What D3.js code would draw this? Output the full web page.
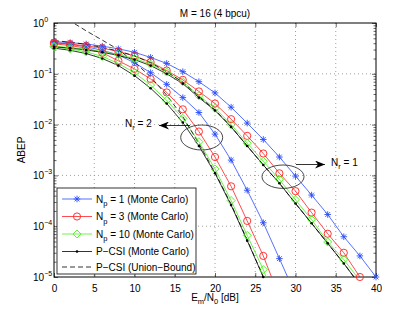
<!DOCTYPE html>
<html>
<head>
<meta charset="utf-8">
<script src="https://cdn.jsdelivr.net/npm/d3@7"></script>
<style>
  body { margin: 0; background: #fff; }
  text { font-family: "Liberation Sans", Arial, sans-serif; font-size: 10px; fill: #000; }
</style>
</head>
<body>
<svg id="chart" width="415" height="313"></svg>
<script>

  // Em/N0 in dB, one marker every 2 dB
  var snr = d3.range(0, 41, 2);
  var xTicks = [0, 5, 10, 15, 20, 25, 30, 35, 40];
  var yTicks = [1e-5, 1e-4, 1e-3, 1e-2, 1e-1, 1e0];
  var yExp = ["\u22125", "\u22124", "\u22123", "\u22122", "\u22121", "0"];

  // Nr = 1
  var np1Nr1  = [0.43, 0.41, 0.385, 0.35, 0.31, 0.265, 0.21, 0.16, 0.11, 0.07, 0.042, 0.022, 0.0107, 5.1e-3, 2.3e-3, 9.7e-4, 4.1e-4, 1.7e-4, 6.2e-5, 2.6e-5, 1.0e-5];
  var np3Nr1  = [0.41, 0.385, 0.355, 0.32, 0.275, 0.225, 0.17, 0.116, 0.076, 0.045, 0.026, 0.0128, 6.0e-3, 2.7e-3, 1.1e-3, 4.9e-4, 1.85e-4, 7.1e-5, 3.0e-5, 1.0e-5, 3.5e-6];
  var np10Nr1 = [0.35, 0.33, 0.305, 0.275, 0.24, 0.2, 0.155, 0.108, 0.07, 0.037, 0.021, 0.0100, 4.3e-3, 1.9e-3, 8.3e-4, 3.3e-4, 1.35e-4, 4.9e-5, 2.2e-5, 8.5e-6, 3.0e-6];
  var pcsiNr1 = [0.34, 0.32, 0.295, 0.265, 0.23, 0.19, 0.145, 0.1, 0.064, 0.034, 0.019, 9.0e-3, 3.8e-3, 1.6e-3, 7.0e-4, 2.8e-4, 1.14e-4, 4.6e-5, 1.85e-5, 7.0e-6, 2.5e-6];
  var ubNr1   = [0.45, 0.42, 0.38, 0.33, 0.28, 0.225, 0.165, 0.11, 0.068, 0.036, 0.0195, 9.1e-3, 3.8e-3, 1.6e-3, 7.0e-4, 2.8e-4, 1.14e-4, 4.6e-5, 1.85e-5, 7.0e-6, 2.5e-6];

  // Nr = 2
  var np1Nr2  = [0.41, 0.38, 0.34, 0.29, 0.235, 0.165, 0.105, 0.062, 0.034, 0.0173, 6.5e-3, 2.0e-3, 5.1e-4, 1.17e-4, 2.3e-5, 4.5e-6];
  var np3Nr2  = [0.39, 0.36, 0.32, 0.26, 0.18, 0.125, 0.079, 0.043, 0.02, 7.3e-3, 2.3e-3, 6.1e-4, 1.27e-4, 2.6e-5, 4.0e-6];
  var np10Nr2 = [0.34, 0.31, 0.27, 0.22, 0.16, 0.105, 0.06, 0.03, 0.0133, 4.6e-3, 1.34e-3, 3.2e-4, 6.6e-5, 1.4e-5, 2.0e-6];
  var pcsiNr2 = [0.32, 0.29, 0.25, 0.2, 0.145, 0.092, 0.052, 0.026, 0.011, 3.8e-3, 1.1e-3, 2.6e-4, 5.2e-5, 1.0e-5, 1.5e-6];
  var ubNr2   = [1.65, 1.1, 0.7, 0.46, 0.3, 0.17, 0.087, 0.038, 0.0144, 4.2e-3, 1.15e-3, 2.7e-4, 5.4e-5, 1.0e-5, 1.5e-6];

  var legendLabels = [
    ["N", "p", " = 1 (Monte Carlo)"],
    ["N", "p", " = 3 (Monte Carlo)"],
    ["N", "p", " = 10 (Monte Carlo)"],
    ["P\u2212CSI (Monte Carlo)", "", ""],
    ["P\u2212CSI (Union\u2212Bound)", "", ""]
  ];

  var blue = "#2a4dff", red = "#ff2020", green = "#4cf020";

  var series = [
    { v: np1Nr1, c: blue, m: "star" }, { v: np1Nr2, c: blue, m: "star" },
    { v: np3Nr1, c: red, m: "circle" }, { v: np3Nr2, c: red, m: "circle" },
    { v: np10Nr1, c: green, m: "diamond" }, { v: np10Nr2, c: green, m: "diamond" },
    { v: pcsiNr1, c: "#000", m: "dot" }, { v: pcsiNr2, c: "#000", m: "dot" },
    { v: ubNr1, c: "#000", m: "none", dash: "5,3" }, { v: ubNr2, c: "#000", m: "none", dash: "5,3" }
  ];

  var margin = { left: 54, top: 23, right: 39, bottom: 36 };
  var W = 415, H = 313;
  var w = W - margin.left - margin.right, h = H - margin.top - margin.bottom;

  var svg = d3.select("#chart");
  var g = svg.append("g").attr("transform", "translate(" + margin.left + "," + margin.top + ")");

  var x = d3.scaleLinear().domain([0, 40]).range([0, w]);
  var y = d3.scaleLog().domain([1e-5, 1]).range([h, 0]);

  svg.append("defs").append("clipPath").attr("id", "clip")
    .append("rect").attr("width", w).attr("height", h);

  // grid
  g.selectAll(".gx").data(xTicks.slice(1, -1)).enter().append("line")
    .attr("x1", function(d) { return x(d); }).attr("x2", function(d) { return x(d); })
    .attr("y1", 0).attr("y2", h)
    .attr("stroke", "#888").attr("stroke-width", 0.8).attr("stroke-dasharray", "1,3");
  g.selectAll(".gy").data(yTicks.slice(1, -1)).enter().append("line")
    .attr("y1", function(d) { return y(d); }).attr("y2", function(d) { return y(d); })
    .attr("x1", 0).attr("x2", w)
    .attr("stroke", "#888").attr("stroke-width", 0.8).attr("stroke-dasharray", "1,3");

  // axes
  var minor = [];
  yTicks.slice(0, -1).forEach(function(t) {
    for (var k = 2; k < 10; k++) minor.push(t * k);
  });
  var axB = d3.axisBottom(x).tickValues(xTicks).tickSizeInner(-4).tickSizeOuter(0).tickPadding(8);
  var axT = d3.axisTop(x).tickValues(xTicks).tickSizeInner(-4).tickSizeOuter(0).tickFormat("");
  var axL = d3.axisLeft(y).tickValues(yTicks).tickSizeInner(-4).tickSizeOuter(0).tickFormat("");
  var axR = d3.axisRight(y).tickValues(yTicks).tickSizeInner(-4).tickSizeOuter(0).tickFormat("");
  var axLm = d3.axisLeft(y).tickValues(minor).tickSizeInner(-2.5).tickSizeOuter(0).tickFormat("");
  var axRm = d3.axisRight(y).tickValues(minor).tickSizeInner(-2.5).tickSizeOuter(0).tickFormat("");

  g.append("g").attr("transform", "translate(0," + h + ")").call(axB);
  g.append("g").call(axT);
  g.append("g").call(axL);
  g.append("g").call(axLm);
  g.append("g").attr("transform", "translate(" + w + ",0)").call(axR);
  g.append("g").attr("transform", "translate(" + w + ",0)").call(axRm);
  g.selectAll(".domain").remove();
  g.selectAll(".tick line").attr("stroke", "#000").attr("stroke-width", 0.6);
  g.selectAll(".tick text").style("font-size", "10px").style("font-family", "'Liberation Sans', Arial, sans-serif");
  g.append("rect").attr("width", w).attr("height", h)
    .attr("fill", "none").attr("stroke", "#000").attr("stroke-width", 1);

  // y tick labels as 10^n
  var yl = g.append("g").selectAll("text").data(yTicks).enter().append("text")
    .attr("x", -21).attr("y", function(d) { return y(d) + 4; });
  yl.append("tspan").text("10");
  yl.append("tspan").attr("dy", -5).style("font-size", "7px")
    .text(function(d, i) { return yExp[i]; });

  // curves
  var line = d3.line()
    .defined(function(d) { return d[1] != null; })
    .x(function(d) { return x(d[0]); })
    .y(function(d) { return y(d[1]); });

  var curves = g.append("g").attr("clip-path", "url(#clip)");
  series.forEach(function(s) {
    var pts = s.v.map(function(v, i) { return [snr[i], v]; });
    curves.append("path").datum(pts).attr("d", line)
      .attr("fill", "none").attr("stroke", s.c).attr("stroke-width", 0.8)
      .attr("stroke-dasharray", s.dash || null);
  });

  function marker(sel, type, color) {
    if (type === "star") {
      sel.append("path").attr("d", "M-3.3,0H3.3M0,-3.3V3.3M-2.4,-2.4L2.4,2.4M-2.4,2.4L2.4,-2.4")
        .attr("stroke", color).attr("stroke-width", 0.9).attr("fill", "none");
    } else if (type === "circle") {
      sel.append("circle").attr("r", 3.6).attr("fill", "none").attr("stroke", color).attr("stroke-width", 0.9);
    } else if (type === "diamond") {
      sel.append("path").attr("d", "M0,-4L4,0L0,4L-4,0Z").attr("fill", "none").attr("stroke", color).attr("stroke-width", 0.9);
    } else if (type === "dot") {
      sel.append("circle").attr("r", 1.3).attr("fill", color);
    }
  }

  series.forEach(function(s) {
    if (s.m === "none") return;
    s.v.forEach(function(v, i) {
      if (v == null || v < 0.97e-5 || v > 1) return;
      var mk = g.append("g").attr("transform", "translate(" + x(snr[i]) + "," + y(v) + ")");
      marker(mk, s.m, s.c);
    });
  });

  // annotations: ellipses and arrows
  svg.append("defs").append("marker").attr("id", "arr")
    .attr("viewBox", "0 0 10 8").attr("refX", 10).attr("refY", 4)
    .attr("markerWidth", 10).attr("markerHeight", 8).attr("markerUnits", "userSpaceOnUse")
    .attr("orient", "auto")
    .append("path").attr("d", "M0,0L10,4L0,8L3,4Z").attr("fill", "#000");

  svg.append("ellipse").attr("cx", 201.7).attr("cy", 137.5).attr("rx", 21).attr("ry", 12.5)
    .attr("fill", "none").attr("stroke", "#333").attr("stroke-width", 0.9);
  svg.append("ellipse").attr("cx", 283).attr("cy", 176.7).attr("rx", 21).attr("ry", 11.7)
    .attr("fill", "none").attr("stroke", "#333").attr("stroke-width", 0.9);

  svg.append("line").attr("x1", 190).attr("y1", 125.5).attr("x2", 159).attr("y2", 125.5)
    .attr("stroke", "#000").attr("stroke-width", 0.8).attr("marker-end", "url(#arr)");
  svg.append("line").attr("x1", 296).attr("y1", 164.5).attr("x2", 325).attr("y2", 164.5)
    .attr("stroke", "#000").attr("stroke-width", 0.8).attr("marker-end", "url(#arr)");

  function nr(xp, yp, val) {
    var t = svg.append("text").attr("x", xp).attr("y", yp);
    t.append("tspan").text("N");
    t.append("tspan").attr("dy", 3).style("font-size", "7.5px").text("r");
    t.append("tspan").attr("dy", -3).text(" = " + val);
  }
  nr(125, 127, "2");
  nr(331, 166, "1");

  // legend
  var lg = svg.append("g").attr("transform", "translate(57,188)");
  lg.append("rect").attr("width", 139).attr("height", 86)
    .attr("fill", "#fff").attr("stroke", "#000").attr("stroke-width", 0.8);
  var rowsY = [11, 28.5, 46, 63.5, 79];
  var legSeries = [series[0], series[2], series[4], series[6], series[8]];
  legSeries.forEach(function(s, i) {
    var ry = rowsY[i];
    lg.append("line").attr("x1", 5).attr("x2", 35).attr("y1", ry).attr("y2", ry)
      .attr("stroke", s.c).attr("stroke-width", 0.8).attr("stroke-dasharray", s.dash || null);
    if (s.m !== "none") marker(lg.append("g").attr("transform", "translate(20," + ry + ")"), s.m, s.c);
    var t = lg.append("text").attr("x", 39).attr("y", ry + 3.5);
    var lab = legendLabels[i];
    t.append("tspan").text(lab[0]);
    if (lab[1]) {
      t.append("tspan").attr("dy", 3.5).style("font-size", "7.5px").text(lab[1]);
      t.append("tspan").attr("dy", -3.5).text(lab[2]);
    }
  });

  // title and axis labels
  svg.append("text").attr("x", 215).attr("y", 16.5).attr("text-anchor", "middle").text("M = 16 (4 bpcu)");
  svg.append("text").attr("transform", "translate(25,150) rotate(-90)").attr("text-anchor", "middle").text("ABEP");
  var xl = svg.append("text").attr("x", 215).attr("y", 301).attr("text-anchor", "middle");
  xl.append("tspan").text("E");
  xl.append("tspan").attr("dy", 3).style("font-size", "7.5px").text("m");
  xl.append("tspan").attr("dy", -3).text("/N");
  xl.append("tspan").attr("dy", 3).style("font-size", "7.5px").text("0");
  xl.append("tspan").attr("dy", -3).text(" [dB]");

</script>
</body>
</html>
